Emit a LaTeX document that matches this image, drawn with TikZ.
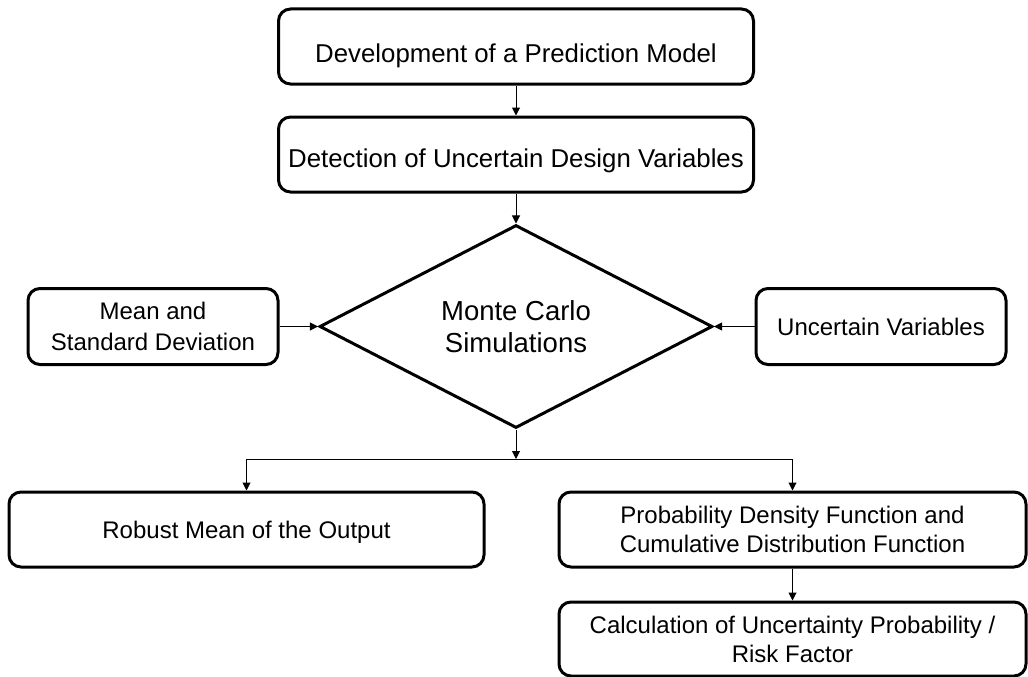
\documentclass[tikz,border=0pt]{standalone}
\usepackage{fontspec}
\setmainfont{Liberation Sans}
\usetikzlibrary{shapes.geometric,arrows.meta}
\begin{document}
\begin{tikzpicture}[x=1pt,y=-1pt,
  box/.style={draw=black, line width=3pt, rounded corners=12pt, align=center,
    inner sep=0pt, font=\fontsize{24}{29}\selectfont},
  decision/.style={diamond, draw=black, line width=3pt, align=center, inner sep=0pt,
    aspect=1.936, minimum width=393pt, minimum height=203pt,
    font=\fontsize{27.5}{31.7}\selectfont},
  flow/.style={line width=1pt, -{Triangle[length=8pt,width=8pt]}},
  link/.style={line width=1pt}
]
\useasboundingbox (0,0) rectangle (1028,677);

% main column
\node[box, minimum width=475pt, minimum height=75pt, font=\fontsize{25.8}{31}\selectfont,
  text height=33pt, text depth=0pt] (model) at (516,46.5) {Development of a Prediction Model};
\node[box, minimum width=475pt, minimum height=75pt, font=\fontsize{25.8}{31}\selectfont,
  text height=25pt, text depth=0pt] (detect) at (516,154.5) {Detection of Uncertain Design Variables};
\node[decision] (mc) at (516,326.5) {Monte Carlo\\Simulations};

% inputs to the simulation
\node[box, minimum width=250pt, minimum height=76pt, font=\fontsize{24}{31}\selectfont]
  (stats) at (153,326.5) {Mean and\\Standard Deviation};
\node[box, minimum width=250pt, minimum height=76pt] (uvars) at (881,326.5) {Uncertain Variables};

% outputs
\node[box, minimum width=475pt, minimum height=75pt, text depth=0pt] (robust) at (246.5,529.5)
  {Robust Mean of the Output};
\node[box, minimum width=467pt, minimum height=75pt, font=\fontsize{24}{28.5}\selectfont]
  (pdf) at (792.5,529.5) {Probability Density Function and\\Cumulative Distribution Function};
\node[box, minimum width=467pt, minimum height=74pt] (risk) at (792.5,639)
  {Calculation of Uncertainty Probability /\\Risk Factor};

\coordinate (split) at (516,459);

% connectors
\draw[flow] (model) -- (detect);
\draw[flow] (detect) -- (mc);
\draw[flow] (stats) -- (mc);
\draw[flow] (uvars) -- (mc);
\draw[flow] (mc) -- (split);
\draw[flow] (split) -| (robust.north);
\draw[flow] (split) -| (pdf.north);
\draw[flow] (pdf) -- (risk);
\end{tikzpicture}
\end{document}
